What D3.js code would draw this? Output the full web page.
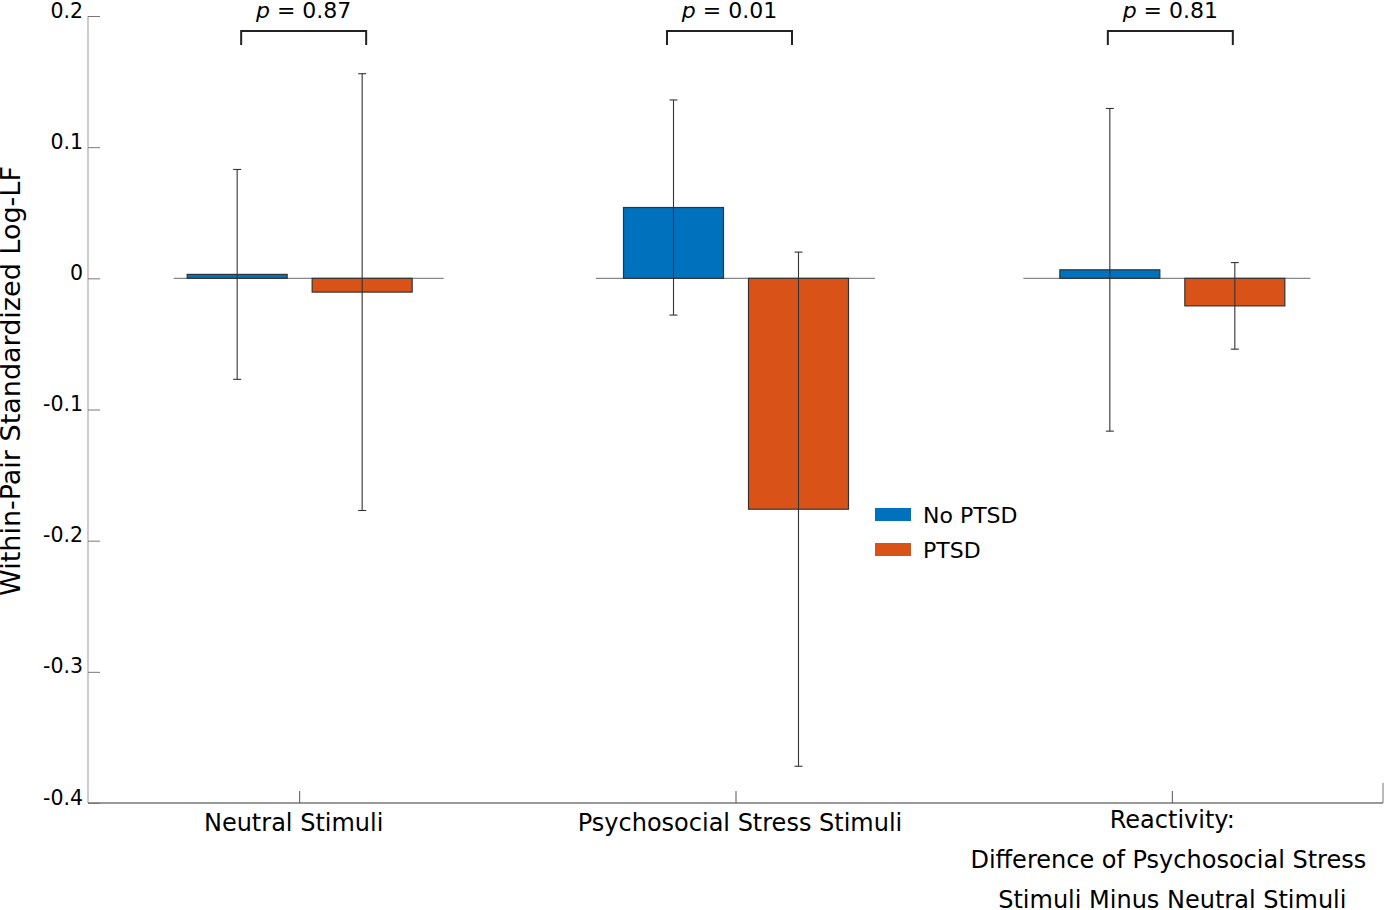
<!DOCTYPE html>
<html><head><meta charset="utf-8">
<script src="https://cdn.jsdelivr.net/npm/d3@7"></script>
<style>body{margin:0;background:#fff;} text{font-family:"DejaVu Sans",sans-serif;}</style>
</head><body><svg id="c" width="1385" height="910"></svg>
<script>
const categories = ["Neutral Stimuli", "Psychosocial Stress Stimuli", "Reactivity:\nDifference of Psychosocial Stress\nStimuli Minus Neutral Stimuli"];
const seriesNames = ["No PTSD", "PTSD"];
const noPtsdMean = [0.003, 0.054, 0.0065];
const noPtsdErr  = [0.080, 0.082, 0.123];
const ptsdMean   = [-0.0105, -0.176, -0.021];
const ptsdErr    = [0.1665, 0.196, 0.033];
const pValues    = ["0.87", "0.01", "0.81"];
const yTicks     = [0.2, 0.1, 0, -0.1, -0.2, -0.3, -0.4];
const colors     = ["#0072BD", "#D95319"];

// small layout nudges (pixels) to match the original figure's placement
const bracketNudge = [4, -6.5, -2];
const labelNudge = [[-6], [4], [0, -4, 0]];
const baselineExtent = [[-126, 144], [-140, 139], [-149, 138]];

const svg = d3.select("#c");
const mLeft = 88, mRight = 1383, mTop = 16, mBottom = 803;
const y = d3.scaleLinear().domain([-0.4, 0.2]).range([mBottom, mTop]);
const x = d3.scaleBand().domain(categories).range([81.5, 1390.5]).paddingInner(0).paddingOuter(0);
const xc = c => x(c) + x.bandwidth() / 2;
const sub = d3.scaleBand().domain(seriesNames).range([-112.5, 112.5]).paddingInner(0.2).paddingOuter(0);

const series = [
  {name: seriesNames[0], mean: noPtsdMean, err: noPtsdErr, color: colors[0]},
  {name: seriesNames[1], mean: ptsdMean, err: ptsdErr, color: colors[1]}
];

// axes
const yAxis = svg.append("g").attr("transform", `translate(${mLeft},0)`)
  .call(d3.axisRight(y).tickValues(yTicks).tickSize(12).tickFormat(d => String(d)));
yAxis.select(".domain").attr("stroke", "#999").attr("d", `M0,${mTop}V${mBottom}`);
yAxis.selectAll(".tick line").attr("stroke", "#777");
yAxis.selectAll(".tick text").attr("x", -5).attr("text-anchor", "end").attr("font-size", 20.5).attr("fill", "#000").attr("dy", "0.05em");

const xAxis = svg.append("g").attr("transform", `translate(0,${mBottom})`);
xAxis.append("line").attr("x1", mLeft).attr("x2", mRight).attr("stroke", "#777").attr("stroke-width", 1.3);
xAxis.append("line").attr("x1", mRight).attr("x2", mRight).attr("y1", 0).attr("y2", -20).attr("stroke", "#777");
categories.forEach((c, ci) => {
  xAxis.append("line").attr("x1", xc(c)).attr("x2", xc(c)).attr("y1", 0).attr("y2", -12).attr("stroke", "#555");
  const lines = c.split("\n");
  lines.forEach((l, i) => {
    xAxis.append("text").attr("x", xc(c) + labelNudge[ci][i]).attr("y", lines.length === 1 ? 28 : 25 + i * 40)
      .attr("text-anchor", "middle").attr("font-size", 24).attr("fill", "#000").text(l);
  });
});

// baselines
categories.forEach((c, i) => {
  svg.append("line").attr("x1", xc(c) + baselineExtent[i][0]).attr("x2", xc(c) + baselineExtent[i][1])
    .attr("y1", y(0)).attr("y2", y(0)).attr("stroke", "#888").attr("stroke-width", 1.3);
});

// bars
series.forEach(s => {
  const g = svg.append("g");
  categories.forEach((c, i) => {
    const v = s.mean[i];
    g.append("rect").attr("x", xc(c) + sub(s.name)).attr("width", sub.bandwidth())
      .attr("y", y(Math.max(0, v))).attr("height", Math.abs(y(v) - y(0)))
      .attr("fill", s.color).attr("stroke", "#333").attr("stroke-width", 1.2);
  });
});
// error bars
series.forEach(s => {
  categories.forEach((c, i) => {
    const cx = xc(c) + sub(s.name) + sub.bandwidth() / 2;
    const hi = y(s.mean[i] + s.err[i]), lo = y(s.mean[i] - s.err[i]);
    const g = svg.append("g").attr("stroke", "#333").attr("stroke-width", 1.1);
    g.append("line").attr("x1", cx).attr("x2", cx).attr("y1", hi).attr("y2", lo);
    g.append("line").attr("x1", cx - 4).attr("x2", cx + 4).attr("y1", hi).attr("y2", hi);
    g.append("line").attr("x1", cx - 4).attr("x2", cx + 4).attr("y1", lo).attr("y2", lo);
  });
});

// p-value brackets
categories.forEach((c, i) => {
  const x1 = xc(c) + sub(seriesNames[0]) + sub.bandwidth() / 2 + bracketNudge[i];
  const x2 = xc(c) + sub(seriesNames[1]) + sub.bandwidth() / 2 + bracketNudge[i];
  svg.append("path").attr("d", `M${x1},45V31H${x2}V45`).attr("fill", "none").attr("stroke", "#222").attr("stroke-width", 2);
  const t = svg.append("text").attr("x", (x1 + x2) / 2).attr("y", 18).attr("text-anchor", "middle").attr("font-size", 22).attr("fill", "#000");
  t.append("tspan").attr("font-style", "italic").text("p");
  t.append("tspan").text(" = " + pValues[i]);
});

// legend
const lg = svg.append("g").attr("transform", "translate(875,508)");
series.forEach((s, i) => {
  lg.append("rect").attr("x", 0).attr("y", i * 35).attr("width", 36).attr("height", 13).attr("fill", s.color);
  lg.append("text").attr("x", 48).attr("y", i * 35 + 14.5).attr("font-size", 22).attr("fill", "#000").text(s.name);
});

// y label
svg.append("text").attr("transform", "translate(20,381) rotate(-90)").attr("text-anchor", "middle")
  .attr("font-size", 27).attr("fill", "#000").text("Within-Pair Standardized Log-LF");
</script></body></html>
